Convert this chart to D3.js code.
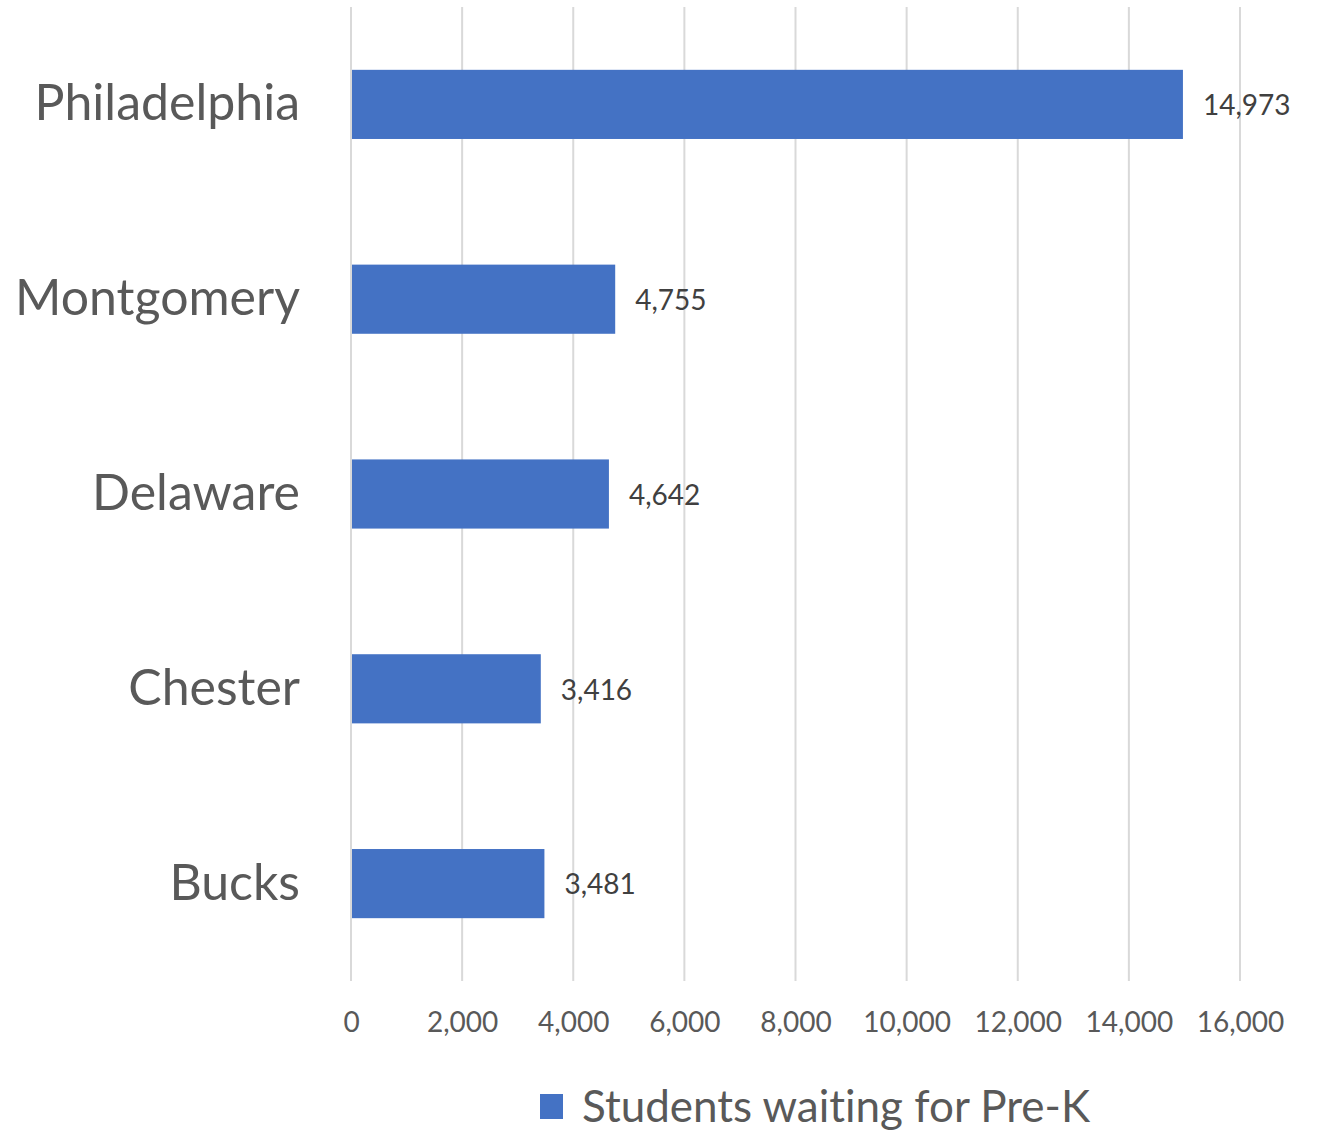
<!DOCTYPE html>
<html>
<head>
<meta charset="utf-8">
<script src="https://cdn.jsdelivr.net/npm/d3@7"></script>
<style>
  body { margin: 0; background: #fff; }
  svg { display: block; font-family: Lato, "Open Sans", sans-serif; font-variant-ligatures: none; }
</style>
</head>
<body>
<svg width="1317" height="1131"></svg>
<script>
// data
var counties = ["Philadelphia", "Montgomery", "Delaware", "Chester", "Bucks"];
var waiting = [14973, 4755, 4642, 3416, 3481];
var tickValues = [0, 2000, 4000, 6000, 8000, 10000, 12000, 14000, 16000];
var seriesName = "Students waiting for Pre-K";

var svg = d3.select("svg");
var margins = { top: 7, left: 351, right: 77, bottom: 150 };
var svgWidth = +svg.attr("width");
var svgHeight = +svg.attr("height");
var chartWidth = svgWidth - margins.left - margins.right;
var chartHeight = svgHeight - margins.top - margins.bottom;

var xScale = d3.scaleLinear().domain([0, 16000]).range([0, chartWidth]);
var yScale = d3.scaleBand().domain(counties).range([0, chartHeight])
  .paddingInner(0.645).paddingOuter(0.3225);

var g = svg.append("g").attr("transform", `translate(${margins.left}, ${margins.top})`);

// gridlines
g.append("g").selectAll("line").data(tickValues).enter().append("line")
  .attr("x1", function (d) { return xScale(d); })
  .attr("x2", function (d) { return xScale(d); })
  .attr("y1", 0).attr("y2", chartHeight)
  .attr("stroke", "#d9d9d9").attr("stroke-width", 2);

// x axis labels
var xAxis = g.append("g")
  .attr("transform", `translate(0, ${chartHeight})`)
  .call(d3.axisBottom(xScale).tickValues(tickValues).tickSize(0).tickPadding(31)
    .tickFormat(d3.format(",")));
xAxis.select(".domain").remove();
xAxis.selectAll("text").attr("fill", "#595959").style("font-size", "28px")
  .style("font-family", "Lato, sans-serif");

// bars
var data = counties.map(function (c, i) { return { name: c, value: waiting[i] }; });
g.selectAll("rect.bar").data(data).enter().append("rect")
  .attr("class", "bar")
  .attr("x", xScale(0) + 1)
  .attr("y", function (d) { return yScale(d.name); })
  .attr("width", function (d) { return xScale(d.value) - xScale(0) - 1; })
  .attr("height", yScale.bandwidth())
  .attr("fill", "#4472c4");

// value labels
g.selectAll("text.val").data(data).enter().append("text")
  .attr("class", "val")
  .attr("x", function (d) { return xScale(d.value) + 20; })
  .attr("y", function (d) { return yScale(d.name) + yScale.bandwidth() / 2 + 1; })
  .attr("dy", "0.35em")
  .attr("fill", "#404040").style("font-size", "28px")
  .text(function (d) { return d3.format(",")(d.value); });

// category labels
var yAxis = g.append("g")
  .call(d3.axisLeft(yScale).tickSize(0).tickPadding(51));
yAxis.select(".domain").remove();
yAxis.selectAll("text").attr("fill", "#595959").style("font-size", "50px")
  .style("font-family", "Lato, sans-serif");

// legend
var legend = svg.append("g").attr("transform", "translate(540, 1094)");
legend.append("rect").attr("width", 23).attr("height", 25).attr("fill", "#4472c4");
legend.append("text").attr("x", 42).attr("y", 13).attr("dy", "0.35em")
  .attr("fill", "#595959").style("font-size", "44px").text(seriesName);
</script>
</body>
</html>
